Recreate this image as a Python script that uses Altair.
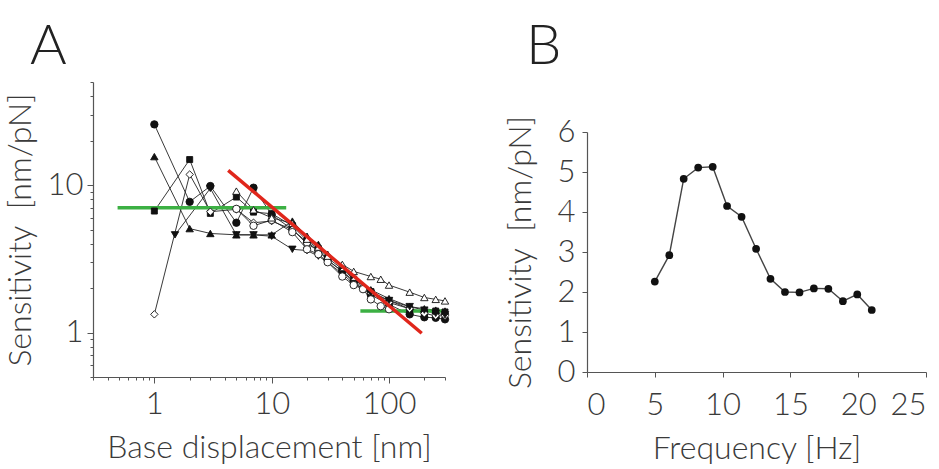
import altair as alt
import pandas as pd

FONT = "Lato"
GRAY = "#3a3a3a"

# ---------- Panel A data ----------
a_fc_x = [1, 2, 3, 5, 7, 10, 15, 20, 25, 30, 40, 50, 70, 100, 150, 200, 250, 300]
a_fc_y = [25.8, 7.7, 9.85, 5.56, 9.6, 6.3, 5.0, 4.1, 3.6, 3.1, 2.6, 2.2, 1.8, 1.55, 1.33, 1.27, 1.26, 1.23]

a_ft_x = [1, 2, 3, 5, 7, 10, 15, 20, 25, 30, 40, 50, 70, 100, 150, 200, 250, 300]
a_ft_y = [15.6, 5.07, 4.7, 4.6, 4.6, 4.6, 5.7, 4.5, 3.96, 3.4, 2.8, 2.3, 1.95, 1.7, 1.5, 1.45, 1.42, 1.4]

a_fs_x = [1, 2, 3, 5, 7, 10, 15, 20, 25, 30, 40, 50, 70, 100, 150, 200, 250, 300]
a_fs_y = [6.67, 14.9, 6.43, 8.3, 6.56, 6.4, 5.3, 4.2, 3.7, 3.2, 2.7, 2.3, 1.9, 1.65, 1.45, 1.38, 1.4, 1.38]

a_od_x = [1, 2, 3, 5, 7, 10, 15, 20, 25, 30, 40, 50, 70, 100, 150, 200, 250, 300]
a_od_y = [1.33, 11.8, 6.6, 6.85, 5.56, 5.7, 5.0, 4.0, 3.6, 3.1, 2.6, 2.25, 1.85, 1.6, 1.45, 1.35, 1.3, 1.3]

a_fi_x = [1.5, 3, 5, 7, 10, 15, 20, 25, 30, 40, 50, 70, 100, 150, 200, 250, 300]
a_fi_y = [4.6, 9.5, 4.6, 4.6, 4.5, 3.67, 3.6, 3.3, 3.0, 2.5, 2.15, 1.85, 1.65, 1.5, 1.42, 1.35, 1.32]

a_oc_x = [5, 7, 10, 15, 20, 25, 30, 40, 50, 60, 70, 85, 100]
a_oc_y = [6.9, 5.3, 5.8, 4.8, 3.67, 3.4, 3.0, 2.4, 2.1, 1.97, 1.68, 1.51, 1.44]

a_ot_x = [5, 7, 10, 15, 20, 25, 30, 40, 50, 70, 85, 100, 150, 200, 250, 300]
a_ot_y = [9.1, 6.8, 6.0, 5.5, 4.3, 3.8, 3.3, 2.9, 2.6, 2.4, 2.3, 2.1, 1.88, 1.73, 1.68, 1.64]

red_x = [4.26, 190]
red_y = [12.6, 0.99]
green1_x = [0.486, 13.3]
green1_y = [7.03, 7.03]
green2_x = [57, 300]
green2_y = [1.40, 1.40]

# ---------- Panel B data ----------
b_freq = [5.0, 6.07, 7.13, 8.2, 9.27, 10.33, 11.4, 12.47, 13.53, 14.6, 15.67, 16.73, 17.8, 18.87, 19.93, 21.0]
b_sens = [2.26, 2.92, 4.83, 5.11, 5.13, 4.15, 3.88, 3.08, 2.33, 2.0, 1.99, 2.09, 2.08, 1.77, 1.94, 1.55]

series = [
    ("fc", a_fc_x, a_fc_y, "circle", True),
    ("ft", a_ft_x, a_ft_y, "triangle-up", True),
    ("fs", a_fs_x, a_fs_y, "square", True),
    ("od", a_od_x, a_od_y, "diamond", False),
    ("fi", a_fi_x, a_fi_y, "triangle-down", True),
    ("oc", a_oc_x, a_oc_y, "circle", False),
    ("ot", a_ot_x, a_ot_y, "triangle-up", False),
]

rows = []
for name, xs, ys, shp, filled in series:
    for x, y in zip(xs, ys):
        rows.append({"series": name, "x": x, "y": y})
dfA = pd.DataFrame(rows)

x_ticks = [0.3, 0.4, 0.5, 0.6, 0.7, 0.8, 0.9, 1, 2, 3, 4, 5, 6, 7, 8, 9,
           10, 20, 30, 40, 50, 60, 70, 80, 90, 100, 200, 300]
y_ticks = [0.5, 0.6, 0.7, 0.8, 0.9, 1, 2, 3, 4, 5, 6, 7, 8, 9, 10, 20, 30, 40, 50]

xscaleA = alt.Scale(type="log", domain=[0.3, 300], nice=False)
yscaleA = alt.Scale(type="log", domain=[0.5, 50], nice=False)

major_test = "datum.value == 1 || datum.value == 10 || datum.value == 100"
LBL = 31
TTL = 32

xaxisA = alt.Axis(
    values=x_ticks, title="Base displacement [nm]", grid=False, labelFlush=False,
    labelExpr=f"({major_test}) ? format(datum.value, 'd') : ''",
    tickSize={"condition": {"test": major_test, "value": 6}, "value": 3},
    labelFontSize=LBL, titleFontSize=TTL, labelPadding=6, titlePadding=13,
)
yaxisA = alt.Axis(
    values=y_ticks, title="Sensitivity\u00a0 [nm/pN]", grid=False, labelFlush=False,
    labelExpr=f"(datum.value == 1 || datum.value == 10) ? format(datum.value, 'd') : ''",
    tickSize={"condition": {"test": "datum.value == 1 || datum.value == 10", "value": 6}, "value": 3},
    labelFontSize=LBL, titleFontSize=TTL, labelPadding=4, titlePadding=10,
)

base = alt.Chart(dfA)
lines = base.mark_line(color="#222", strokeWidth=0.9).encode(
    x=alt.X("x:Q", scale=xscaleA, axis=xaxisA),
    y=alt.Y("y:Q", scale=yscaleA, axis=yaxisA),
    detail="series:N",
)

layersA = [lines]
layersA.append(
    alt.Chart(pd.DataFrame({"x": green1_x, "y": green1_y})).mark_line(color="#3cb043", strokeWidth=3.5)
    .encode(x=alt.X("x:Q", scale=xscaleA), y=alt.Y("y:Q", scale=yscaleA))
)
layersA.append(
    alt.Chart(pd.DataFrame({"x": green2_x, "y": green2_y})).mark_line(color="#3cb043", strokeWidth=3.5)
    .encode(x=alt.X("x:Q", scale=xscaleA), y=alt.Y("y:Q", scale=yscaleA))
)
for name, xs, ys, shp, filled in series:
    sz = 55 if shp != "square" else 36
    layersA.append(
        alt.Chart(dfA[dfA.series == name]).mark_point(
            shape=shp, size=sz, filled=True,
            fill="#111" if filled else "white", stroke="#111", strokeWidth=0.9, opacity=1,
        ).encode(x=alt.X("x:Q", scale=xscaleA), y=alt.Y("y:Q", scale=yscaleA))
    )
layersA.append(
    alt.Chart(pd.DataFrame({"x": red_x, "y": red_y})).mark_line(color="#e0261b", strokeWidth=3.5)
    .encode(x=alt.X("x:Q", scale=xscaleA), y=alt.Y("y:Q", scale=yscaleA))
)

chartA = alt.layer(*layersA).properties(
    width=352, height=295,
    title=alt.TitleParams("A", anchor="start", fontSize=56, font=FONT, fontWeight=300,
                          offset=6, dx=26, color="#222"),
)

dfB = pd.DataFrame({"f": b_freq, "s": b_sens})
xB = alt.X("f:Q", scale=alt.Scale(domain=[0, 25], nice=False),
           axis=alt.Axis(values=[0, 5, 10, 15, 20, 25], title="Frequency [Hz]", grid=False,
                         tickSize=5, labelFontSize=LBL, titleFontSize=TTL, labelPadding=13, titlePadding=13))
yB = alt.Y("s:Q", scale=alt.Scale(domain=[0, 6], nice=False, range=[290, 50]),
           axis=alt.Axis(values=[0, 1, 2, 3, 4, 5, 6], title="Sensitivity\u00a0 [nm/pN]", grid=False,
                         tickSize=5, labelFontSize=LBL, titleFontSize=TTL, labelPadding=7, titlePadding=20))
chartB = alt.Chart(dfB).mark_line(
    color="#444", strokeWidth=1.4,
    point=alt.OverlayMarkDef(filled=True, fill="#111", size=60, opacity=1),
).encode(x=xB, y=yB).properties(
    width=339, height=290,
    title=alt.TitleParams("B", anchor="start", fontSize=56, font=FONT, fontWeight=300,
                          offset=6, dx=22, color="#222"),
)

chart = alt.hconcat(chartA, chartB, spacing=52).configure_view(stroke=None).configure_axis(
    labelFont=FONT, titleFont=FONT, labelFontWeight=300, titleFontWeight=300,
    labelColor=GRAY, titleColor=GRAY, domainColor="#555", tickColor="#555",
    domainWidth=1.2, tickWidth=1,
).properties(padding={"left": 4, "top": 18, "right": 0, "bottom": 0}, background="white")

chart.save("out.html", embed_options={"renderer": "svg", "actions": False})
